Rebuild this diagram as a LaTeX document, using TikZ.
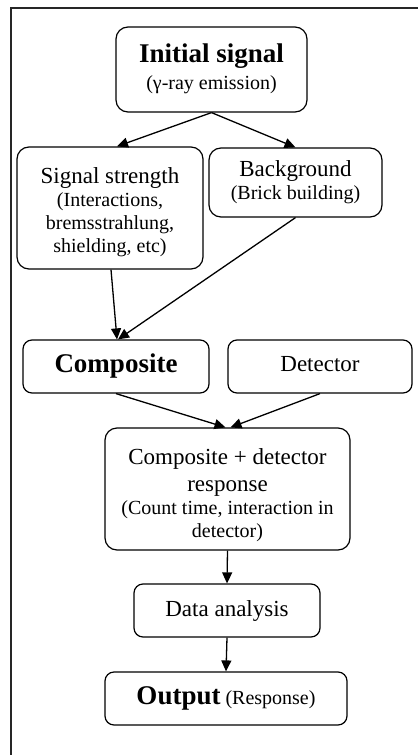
\documentclass[tikz,border=0pt]{standalone}
\usepackage{fontspec}
\setmainfont{Liberation Serif}
\usetikzlibrary{arrows.meta,calc}

% text sizes used inside the boxes
\newcommand\boxtitle{\fontsize{27}{31}\selectfont\bfseries}
\newcommand\boxmain{\fontsize{23}{27}\selectfont}
\newcommand\boxsub{\fontsize{20}{23}\selectfont}

\begin{document}
\begin{tikzpicture}[x=1pt,y=-1pt,
  flowbox/.style={draw=black,line width=1.2pt,rounded corners=12pt,
    align=center,inner sep=0pt,font=\boxsub},
  flowarrow/.style={draw=black,line width=1.3pt,
    -{Triangle[length=11pt,width=10pt]}}]

\useasboundingbox (0,0) rectangle (418,755);

% outer frame (only top and left edges fall inside the page)
\draw[line width=1.6pt,black!85] (11,755) -- (11,8) -- (418,8);

% boxes
\node[flowbox,minimum width=191pt,minimum height=85pt] (init) at (211.5,69.5)
  {{\boxtitle Initial signal}\\[4pt]{\boxsub (γ-ray emission)}\\[-17pt]};
\node[flowbox,minimum width=186pt,minimum height=122pt] (sig) at (110,208)
  {{\boxmain\rule{0pt}{24pt}Signal strength}\\(Interactions,\\bremsstrahlung,\\shielding, etc)};
\node[flowbox,minimum width=173pt,minimum height=69pt] (bg) at (295.5,182.5)
  {{\boxmain Background}\\(Brick building)};
\node[flowbox,rounded corners=9pt,minimum width=186pt,minimum height=53pt] (comp) at (116,366.5)
  {\boxtitle Composite};
\node[flowbox,rounded corners=9pt,minimum width=184pt,minimum height=53pt] (det) at (320,366.5)
  {{\boxmain Detector}\\[-17pt]};
\node[flowbox,minimum width=245pt,minimum height=122pt] (resp) at (227.5,489)
  {{\boxmain\rule{0pt}{28pt}Composite + detector}\\[4pt]{\boxmain response}\\(Count time, interaction in\\detector)};
\node[flowbox,rounded corners=9pt,minimum width=186pt,minimum height=53pt] (data) at (227,610.5)
  {\boxmain Data analysis};
\node[flowbox,rounded corners=9pt,minimum width=242pt,minimum height=53pt] (out) at (226,698.5)
  {{\boxtitle Output} {\boxsub (Response)}};

% connectors
\draw[flowarrow] (init.south) -- ($(sig.north)+(7,0)$);
\draw[flowarrow] (init.south) -- (bg.north);
\draw[flowarrow] ($(sig.south)+(1,0)$) -- ($(comp.north)+(1,0)$);
\draw[flowarrow] (bg.south) -- ($(comp.north)+(2,0)$);
\draw[flowarrow] (comp.south) -- ($(resp.north)+(-2,0)$);
\draw[flowarrow] (det.south) -- ($(resp.north)+(3,0)$);
\draw[flowarrow] (resp.south) -- (data.north);
\draw[flowarrow] (data.south) -- (out.north);

\end{tikzpicture}
\end{document}
